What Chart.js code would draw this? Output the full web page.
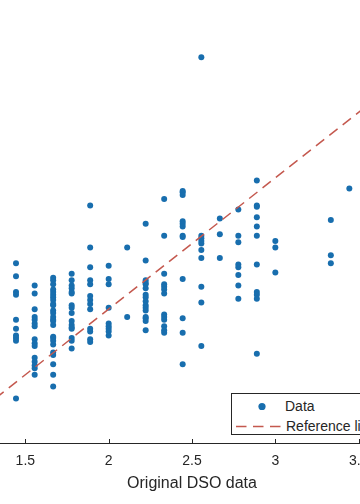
<!DOCTYPE html>
<html>
<head>
<meta charset="utf-8">
<script src="https://cdn.jsdelivr.net/npm/chart.js@4.4.1/dist/chart.umd.min.js"></script>
<style>
  html, body { margin: 0; padding: 0; background: #fff; }
  #wrap { position: relative; width: 360px; height: 504px; overflow: hidden; background: #fff; }
  #c { position: absolute; left: -62px; top: -23px; }
  #legend { position: absolute; left: 231px; top: 393px; width: 200px; height: 42px;
            border: 1px solid #262626; background: #fff; box-sizing: border-box;
            font: 14px "Liberation Sans", Arial, sans-serif; color: #262626; }
  #legend svg { position: absolute; left: 0; top: 0; }
  #legend span { position: absolute; line-height: 16px; white-space: nowrap; }
</style>
</head>
<body>
<div id="wrap">
  <canvas id="c"></canvas>
  <div id="legend">
    <svg width="60" height="42">
      <circle id="legDot" cx="30" cy="12.5" r="3.6"></circle>
      <line id="legLine" x1="4" y1="32.5" x2="51" y2="32.5" stroke-width="1.5"></line>
    </svg>
    <span id="legT0" style="left:53px; top:4px;"></span>
    <span id="legT1" style="left:54px; top:24px;"></span>
  </div>
</div>
<script>
// ---------------- data ----------------
const dsoLevels = [1.444, 1.556, 1.667, 1.778, 1.889, 2.000, 2.111, 2.222, 2.333,
                   2.444, 2.556, 2.667, 2.778, 2.889, 3.000, 3.333, 3.444];

const pred_1_444 = [2.35, 2.25, 2.13, 2.11, 1.92, 1.85, 1.80, 1.78, 1.76, 1.32];
const pred_1_556 = [2.18, 2.12, 2.00, 1.94, 1.92, 1.89, 1.87, 1.77, 1.74, 1.72, 1.63, 1.60, 1.57, 1.55, 1.50];
const pred_1_667 = [2.24, 2.22, 2.19, 2.15, 2.13, 2.11, 2.09, 2.07, 2.04, 2.03, 1.99, 1.97, 1.94,
                    1.92, 1.91, 1.88, 1.79, 1.78, 1.76, 1.73, 1.67, 1.65, 1.58, 1.50, 1.41];
const pred_1_778 = [2.27, 2.22, 2.18, 2.16, 2.13, 2.12, 2.03, 2.01, 1.97, 1.91, 1.88, 1.86, 1.85, 1.78, 1.76, 1.70];
const pred_1_889 = [2.79, 2.47, 2.32, 2.22, 2.19, 2.10, 2.07, 2.04, 2.00, 1.85, 1.83, 1.77, 1.75];
const pred_2_000 = [2.33, 2.23, 2.19, 2.01, 1.89, 1.87, 1.85, 1.83, 1.80];
const pred_2_111 = [2.47, 1.94];
const pred_2_222 = [2.65, 2.37, 2.22, 2.20, 2.19, 2.16, 2.11, 2.09, 2.06, 2.03, 2.01, 1.99, 1.94, 1.93, 1.91, 1.84];
const pred_2_333 = [2.84, 2.56, 2.27, 2.19, 2.17, 2.15, 2.12, 1.96, 1.94, 1.92, 1.87, 1.84, 1.82];
const pred_2_444 = [2.90, 2.89, 2.87, 2.67, 2.65, 2.63, 2.56, 2.55, 2.23, 1.93, 1.82, 1.58];
const pred_2_556 = [3.92, 2.56, 2.54, 2.52, 2.50, 2.45, 2.39, 2.17, 2.05, 1.72];
const pred_2_667 = [2.69, 2.57, 2.39];
const pred_2_778 = [2.76, 2.56, 2.51, 2.34, 2.32, 2.26, 2.18, 2.08];
const pred_2_889 = [2.98, 2.79, 2.78, 2.70, 2.63, 2.56, 2.34, 2.13, 2.11, 2.08, 1.66];
const pred_3_000 = [2.52, 2.47, 2.28];
const pred_3_333 = [2.68, 2.41, 2.35];
const pred_3_444 = [2.92];

const predictedByLevel = [pred_1_444, pred_1_556, pred_1_667, pred_1_778, pred_1_889, pred_2_000,
  pred_2_111, pred_2_222, pred_2_333, pred_2_444, pred_2_556, pred_2_667, pred_2_778,
  pred_2_889, pred_3_000, pred_3_333, pred_3_444];

const refLineX = [1, 4];            // reference line y = x, end points
const xTickValues = [1.5, 2, 2.5, 3, 3.5];
const xTickLabels = ['1.5', '2', '2.5', '3', '3.5'];
const legendLabels = ['Data', 'Reference line'];
const xTitle = 'Original DSO data';

// ---------------- styles ----------------
const DOT = 'rgb(24,110,174)';
const REF = 'rgb(196,88,78)';
const AXIS = '#262626';
const FONT = '"Liberation Sans", Arial, Helvetica, sans-serif';

const points = [];
dsoLevels.forEach((x, i) => predictedByLevel[i].forEach(y => points.push({ x: x, y: y })));
const refLine = refLineX.map(v => ({ x: v, y: v }));

// legend
document.getElementById('legDot').setAttribute('fill', DOT);
const ll = document.getElementById('legLine');
ll.setAttribute('stroke', REF);
ll.setAttribute('stroke-dasharray', '10.5 6.5');
document.getElementById('legT0').textContent = legendLabels[0];
document.getElementById('legT1').textContent = legendLabels[1];

const inwardTicks = {
  id: 'inwardTicks',
  afterDatasetsDraw(chart) {
    const s = chart.scales.x, ctx = chart.ctx;
    ctx.save();
    ctx.strokeStyle = AXIS;
    ctx.lineWidth = 1;
    s.ticks.forEach(t => {
      const px = Math.round(s.getPixelForValue(t.value)) + 0.5;
      ctx.beginPath();
      ctx.moveTo(px, s.top);
      ctx.lineTo(px, s.top - 4);
      ctx.stroke();
    });
    ctx.restore();
  }
};

const canvas = document.getElementById('c');
canvas.width = 508; canvas.height = 528;
canvas.style.width = '508px'; canvas.style.height = '528px';

new Chart(canvas, {
  type: 'scatter',
  data: {
    datasets: [
      { type: 'scatter', label: legendLabels[0], data: points, pointRadius: 3,
        pointBackgroundColor: DOT, pointBorderWidth: 0, backgroundColor: DOT, order: 2 },
      { type: 'line', label: legendLabels[1], data: refLine, borderColor: REF, borderWidth: 1.5,
        borderDash: [10.5, 6.5], pointRadius: 0, fill: false, order: 1 }
    ]
  },
  options: {
    responsive: false,
    animation: false,
    devicePixelRatio: 1,
    layout: { padding: 0 },
    plugins: { legend: { display: false }, tooltip: { enabled: false } },
    scales: {
      x: {
        type: 'linear', min: 1, max: 4, position: 'bottom',
        afterFit(s) { s.height = 62; s.paddingLeft = 0; s.paddingRight = 0; },
        ticks: {
          stepSize: 0.5, padding: 10, color: AXIS, maxRotation: 0, autoSkip: false,
          font: { family: FONT, size: 14 },
          callback(v) {
            const i = xTickValues.findIndex(t => Math.abs(t - v) < 1e-6);
            return i >= 0 ? xTickLabels[i] : '';
          }
        },
        grid: { display: true, drawOnChartArea: false, drawTicks: false },
        border: { display: true, color: AXIS, width: 1 },
        title: { display: true, text: xTitle, color: AXIS,
                 font: { family: FONT, size: 16 }, padding: { top: 0, bottom: 12 } }
      },
      y: { type: 'linear', min: 0.98, max: 4.5, display: false }
    }
  },
  plugins: [inwardTicks]
});
</script>
</body>
</html>
